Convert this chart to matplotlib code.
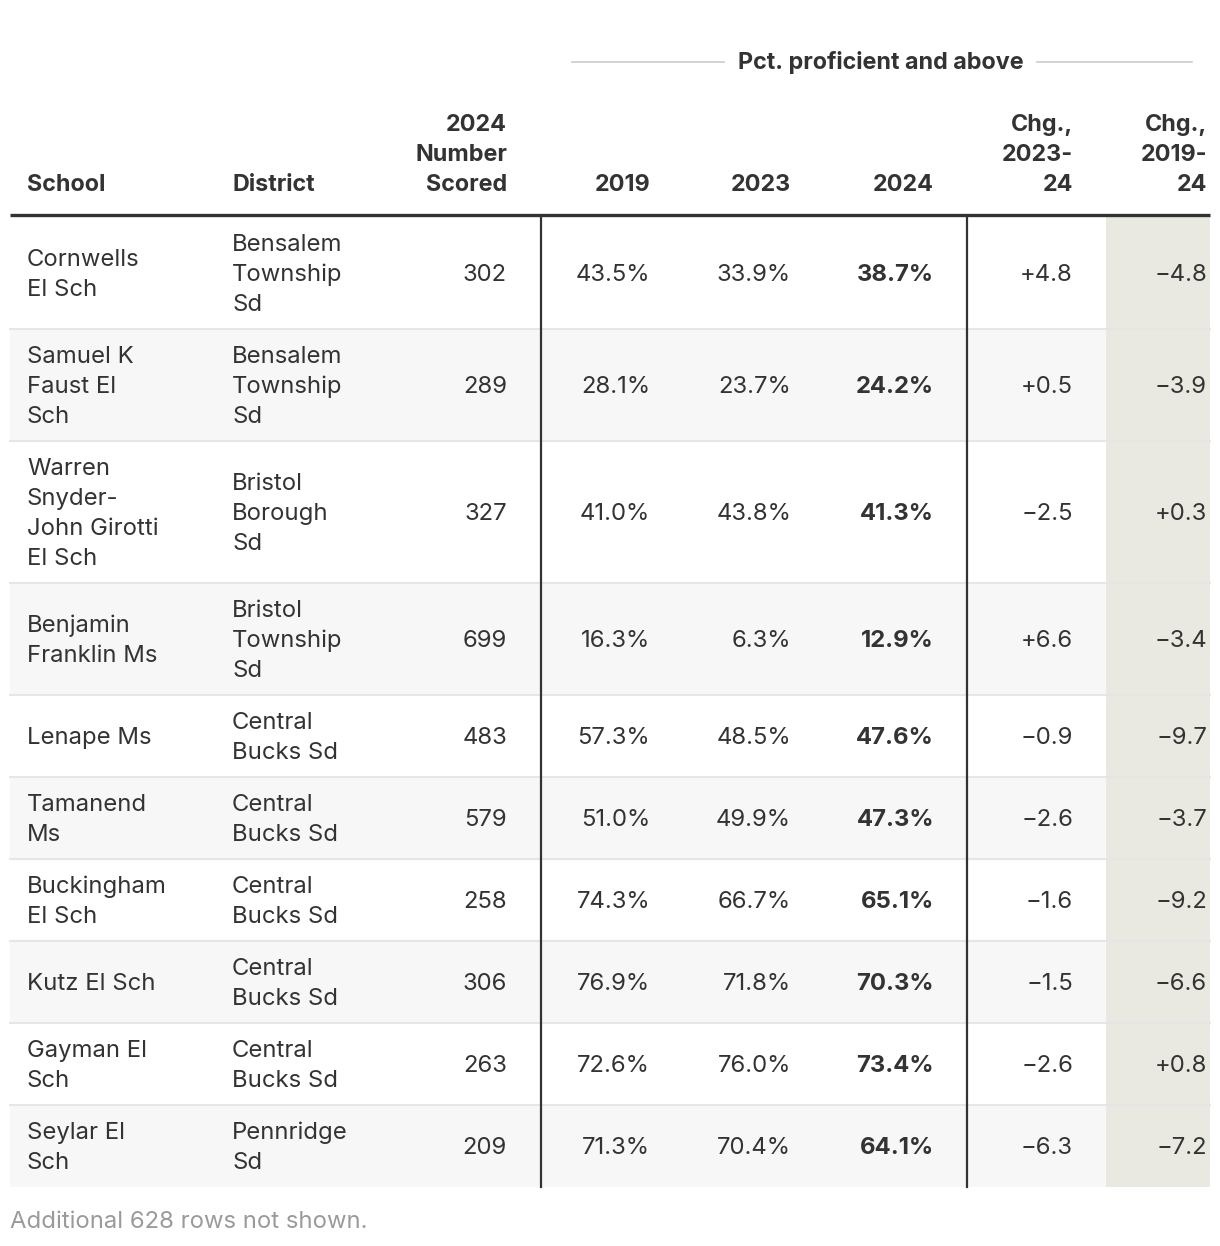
import matplotlib as mpl
mpl.use('Agg')
import matplotlib.pyplot as plt

schools = ["Cornwells\nEl Sch", "Samuel K\nFaust El\nSch", "Warren\nSnyder-\nJohn Girotti\nEl Sch",
           "Benjamin\nFranklin Ms", "Lenape Ms", "Tamanend\nMs", "Buckingham\nEl Sch",
           "Kutz El Sch", "Gayman El\nSch", "Seylar El\nSch"]
districts = ["Bensalem\nTownship\nSd", "Bensalem\nTownship\nSd", "Bristol\nBorough\nSd",
             "Bristol\nTownship\nSd", "Central\nBucks Sd", "Central\nBucks Sd", "Central\nBucks Sd",
             "Central\nBucks Sd", "Central\nBucks Sd", "Pennridge\nSd"]
number_scored = [302, 289, 327, 699, 483, 579, 258, 306, 263, 209]
pct_2019 = [43.5, 28.1, 41.0, 16.3, 57.3, 51.0, 74.3, 76.9, 72.6, 71.3]
pct_2023 = [33.9, 23.7, 43.8, 6.3, 48.5, 49.9, 66.7, 71.8, 76.0, 70.4]
pct_2024 = [38.7, 24.2, 41.3, 12.9, 47.6, 47.3, 65.1, 70.3, 73.4, 64.1]
chg_23_24 = [4.8, 0.5, -2.5, 6.6, -0.9, -2.6, -1.6, -1.5, -2.6, -6.3]
chg_19_24 = [-4.8, -3.9, 0.3, -3.4, -9.7, -3.7, -9.2, -6.6, 0.8, -7.2]
headers = ["School", "District", "2024\nNumber\nScored", "2019", "2023", "2024",
           "Chg.,\n2023-\n24", "Chg.,\n2019-\n24"]
group_label = "Pct. proficient and above"
footer = "Additional 628 rows not shown."

FONT = ["Inter", "DejaVu Sans"]
FS = 17.2
FS_HEAD = 16.8
TXT = "#333333"
LINE_H = 30

# column anchors (pixels): (x, ha)
cols = [(27, "left"), (232, "left"), (507, "right"), (650, "right"), (791, "right"),
        (934, "right"), (1073, "right"), (1207, "right")]


def fmt_chg(v):
    return ("+" if v >= 0 else "\u2212") + "%.1f" % abs(v)


def draw_lines(ax, x, yc, text, ha, weight="normal", color=TXT, anchor="center", fs=FS):
    lines = text.split("\n")
    n = len(lines)
    if anchor == "center":
        y0 = yc - (n - 1) * LINE_H / 2
    else:  # bottom: yc is the last line's center
        y0 = yc - (n - 1) * LINE_H
    for i, ln in enumerate(lines):
        ax.text(x, y0 + i * LINE_H, ln, ha=ha, va="center", fontsize=fs,
                family=FONT, fontweight=weight, color=color)


fig = plt.figure(figsize=(12.2, 12.46), dpi=100)
ax = fig.add_axes([0, 0, 1, 1])
ax.set_xlim(0, 1220)
ax.set_ylim(1246, 0)
ax.axis("off")

# group header
ax.text(881, 63, group_label, ha="center", va="center", fontsize=FS_HEAD, family=FONT,
        fontweight="bold", color=TXT)
ax.plot([572, 724], [62, 62], color="#cccccc", lw=1.2)
ax.plot([1037, 1192], [62, 62], color="#cccccc", lw=1.2)

# column headers
for (x, ha), h in zip(cols, headers):
    draw_lines(ax, x, 185, h, ha, weight="bold", anchor="bottom", fs=FS_HEAD)

ax.plot([10, 1210], [215, 215], color="#333333", lw=2.4, solid_capstyle="butt")

# rows
top = 217
for i in range(len(schools)):
    nl = max(schools[i].count("\n"), districts[i].count("\n")) + 1
    h = 22 + LINE_H * nl
    bg = "#f7f7f7" if i % 2 == 1 else "white"
    ax.add_patch(plt.Rectangle((10, top), 1200, h, color=bg, lw=0, zorder=0))
    ax.add_patch(plt.Rectangle((1106, top), 104, h, color="#e9e9e1", lw=0, zorder=0.5))
    if i < len(schools) - 1:
        ax.plot([10, 1210], [top + h, top + h], color="#e6e6e6", lw=1.5, zorder=1)
    yc = top + h / 2 + 2
    vals = [schools[i], districts[i], str(number_scored[i]), "%.1f%%" % pct_2019[i],
            "%.1f%%" % pct_2023[i], "%.1f%%" % pct_2024[i], fmt_chg(chg_23_24[i]),
            fmt_chg(chg_19_24[i])]
    for j, ((x, ha), v) in enumerate(zip(cols, vals)):
        draw_lines(ax, x, yc, v, ha, weight="bold" if j == 5 else "normal")
    top += h

bottom = top
ax.plot([541, 541], [216, bottom], color="#333333", lw=1.6, zorder=2)
ax.plot([967, 967], [216, bottom], color="#333333", lw=1.6, zorder=2)

ax.text(10, 1222, footer, ha="left", va="center", fontsize=FS, family=FONT, color="#9a9a9a")

plt.savefig("out.png", dpi=100)
